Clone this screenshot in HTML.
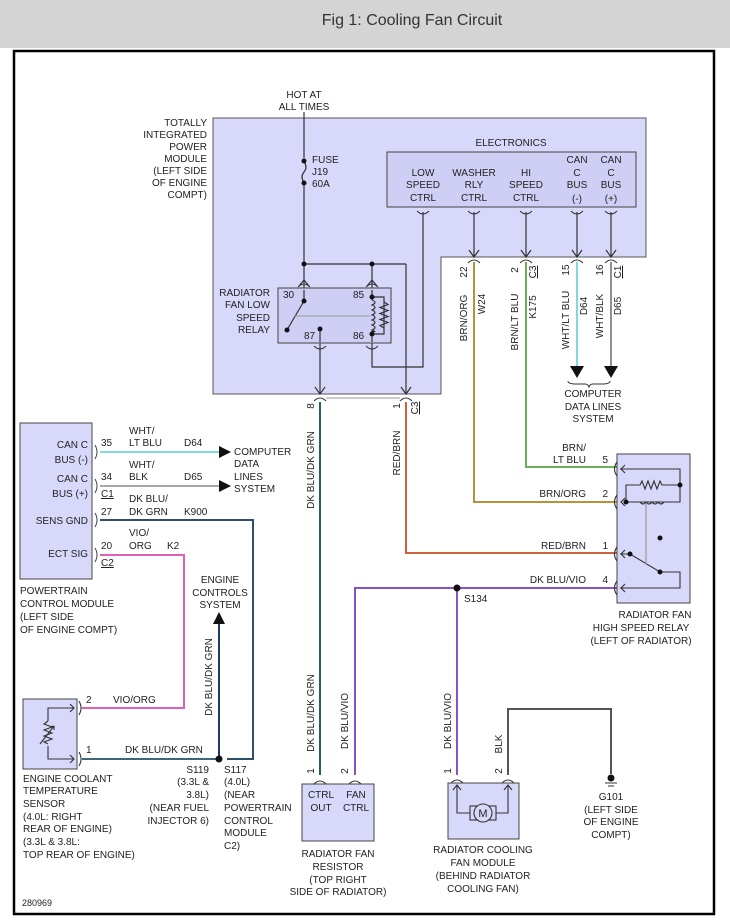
<!DOCTYPE html>
<html><head><meta charset="utf-8"><style>
html,body{margin:0;padding:0;background:#fff}
svg{display:block}
text{font-family:"Liberation Sans",Arial,sans-serif;font-size:10px;fill:#222}
</style></head><body>
<svg width="730" height="924" viewBox="0 0 730 924" xmlns="http://www.w3.org/2000/svg">
<rect x="0" y="0" width="730" height="48" fill="#d4d4d4"/>
<text x="412" y="25" style="font-size:16px;fill:#333" text-anchor="middle">Fig 1: Cooling Fan Circuit</text>
<rect x="14" y="51" width="700" height="863" fill="#fff" stroke="#000" stroke-width="2.5"/>

<!-- TIPM -->
<polygon points="213,118 646,118 646,257 441,257 441,394 213,394" fill="#d8d8fa" stroke="#555" stroke-width="1"/>
<g text-anchor="end">
<text x="207" y="126">TOTALLY</text><text x="207" y="138">INTEGRATED</text><text x="207" y="150">POWER</text><text x="207" y="162">MODULE</text><text x="207" y="174">(LEFT SIDE</text><text x="207" y="186">OF ENGINE</text><text x="207" y="198">COMPT)</text>
</g>
<text x="304" y="98" text-anchor="middle">HOT AT</text><text x="304" y="110" text-anchor="middle">ALL TIMES</text>
<g stroke="#333" stroke-width="1.2" fill="none">
<line x1="304" y1="112" x2="304" y2="158"/>
<path d="M304,162 q4,5 0,10 q-4,5 0,10"/>
<line x1="304" y1="184" x2="304" y2="292"/>
<line x1="304" y1="264" x2="406" y2="264"/>
<line x1="406" y1="264" x2="406" y2="394"/>
<line x1="372" y1="264" x2="372" y2="292"/>
<line x1="320" y1="334" x2="320" y2="394"/>
<path d="M372,337 V367 H423 V212"/>
</g>
<circle cx="304" cy="161" r="2.5" fill="#111"/><circle cx="304" cy="183" r="2.5" fill="#111"/>
<circle cx="304" cy="264" r="2.5" fill="#111"/><circle cx="372" cy="264" r="2.5" fill="#111"/>
<text x="312" y="163">FUSE</text><text x="312" y="175">J19</text><text x="312" y="187">60A</text>

<!-- low speed relay -->
<rect x="278" y="288" width="113" height="55" fill="#cfcff5" stroke="#444"/>
<g text-anchor="end"><text x="270" y="296">RADIATOR</text><text x="270" y="308">FAN LOW</text><text x="270" y="321">SPEED</text><text x="270" y="333">RELAY</text></g>
<text x="283" y="298">30</text><text x="353" y="298">85</text><text x="304" y="339">87</text><text x="353" y="339">86</text>
<g stroke="#333" stroke-width="1.2" fill="none">
<line x1="304" y1="290" x2="304" y2="301"/>
<line x1="304" y1="301" x2="287" y2="330"/>
<line x1="320" y1="329" x2="320" y2="342"/>
<line x1="372" y1="290" x2="372" y2="300"/>
<line x1="372" y1="331" x2="372" y2="342"/>
<path d="M372,297 H384 V334 H372"/>
<path d="M372,300 q6,2.5 0,5 q6,2.5 0,5 q6,2.5 0,5 q6,2.5 0,5 q6,2.5 0,5 q6,2.5 0,5 q6,2.5 0,1"/>
<path d="M384,302 l4,2.5 -8,3 8,3 -8,3 8,3 -8,3 8,3 -8,3 4,2.5"/>
</g>
<line x1="295" y1="316" x2="370" y2="316" stroke="#999" stroke-width="1"/>
<circle cx="304" cy="301" r="2.5" fill="#111"/><circle cx="287" cy="330" r="2.5" fill="#111"/><circle cx="320" cy="329" r="2.5" fill="#111"/>
<circle cx="372" cy="297" r="2.5" fill="#111"/><circle cx="372" cy="334" r="2.5" fill="#111"/>
<g stroke="#333" fill="none" stroke-width="1">
<path d="M298,287 q6,-6 12,0"/><path d="M366,287 q6,-6 12,0"/>
<path d="M314,346 q6,6 12,0"/><path d="M366,346 q6,6 12,0"/>
</g>

<!-- electronics -->
<text x="511" y="146" text-anchor="middle">ELECTRONICS</text>
<rect x="387" y="152" width="249" height="55" fill="#cfcff5" stroke="#444"/>
<g text-anchor="middle">
<text x="423" y="176">LOW</text><text x="423" y="188">SPEED</text><text x="423" y="201">CTRL</text>
<text x="474" y="176">WASHER</text><text x="474" y="188">RLY</text><text x="474" y="201">CTRL</text>
<text x="526" y="176">HI</text><text x="526" y="188">SPEED</text><text x="526" y="201">CTRL</text>
<text x="577" y="163">CAN</text><text x="577" y="176">C</text><text x="577" y="188">BUS</text><text x="577" y="202">(-)</text>
<text x="611" y="163">CAN</text><text x="611" y="176">C</text><text x="611" y="188">BUS</text><text x="611" y="202">(+)</text>
</g>
<g stroke="#333" fill="none" stroke-width="1">
<path d="M417,211 q6,6 12,0"/><path d="M468,211 q6,6 12,0"/><path d="M520,211 q6,6 12,0"/><path d="M571,211 q6,6 12,0"/><path d="M605,211 q6,6 12,0"/>
<path d="M468,263 q6,-6 12,0"/><path d="M520,263 q6,-6 12,0"/><path d="M571,263 q6,-6 12,0"/><path d="M605,263 q6,-6 12,0"/>
<path d="M314,401 q6,-6 12,0"/><path d="M400,401 q6,-6 12,0"/>
</g>
<g stroke="#333" stroke-width="1.2" fill="none">
<line x1="474" y1="212" x2="474" y2="257"/><line x1="526" y1="212" x2="526" y2="257"/><line x1="577" y1="212" x2="577" y2="257"/><line x1="611" y1="212" x2="611" y2="257"/>
<path d="M469,250 l5,7 5,-7 M521,250 l5,7 5,-7 M572,250 l5,7 5,-7 M606,250 l5,7 5,-7 M315,387 l5,7 5,-7 M401,387 l5,7 5,-7 M299,286 l5,-6 5,6 M367,286 l5,-6 5,6"/>
</g>
<line x1="326" y1="398" x2="400" y2="398" stroke="#bbb" stroke-width="1.5"/>

<!-- wires from electronics -->
<g fill="none" stroke-width="2">
<path d="M474,262 V502 H617" stroke="#b8923a"/>
<path d="M526,262 V467 H617" stroke="#6cae5c"/>
<line x1="577" y1="262" x2="577" y2="368" stroke="#80dade"/>
<line x1="611" y1="262" x2="611" y2="368" stroke="#909090"/>
<path d="M406,402 V553 H617" stroke="#cf6040"/>
<line x1="320" y1="402" x2="320" y2="775" stroke="#24606a"/>
<path d="M617,588 H355 V775" stroke="#8a50c8"/>
<line x1="457" y1="588" x2="457" y2="775" stroke="#8a50c8"/>
<path d="M508,775 V709 H611 V774" stroke="#555"/>
</g>
<polygon points="570,366 584,366 577,378" fill="#111"/><polygon points="604,366 618,366 611,378" fill="#111"/>
<path d="M568,381 q0,3 8,3 h9 q3,0 4,3 q1,-3 4,-3 h9 q8,0 8,-3" fill="none" stroke="#333"/>
<g text-anchor="middle"><text x="593" y="397">COMPUTER</text><text x="593" y="410">DATA LINES</text><text x="593" y="422">SYSTEM</text></g>

<!-- rotated labels -->
<g>
<text transform="translate(467,272) rotate(-90)" text-anchor="middle">22</text>
<text transform="translate(467,318) rotate(-90)" text-anchor="middle">BRN/ORG</text>
<text transform="translate(485,304) rotate(-90)" text-anchor="middle">W24</text>
<text transform="translate(518,270) rotate(-90)" text-anchor="middle">2</text>
<text transform="translate(536,272) rotate(-90)" text-anchor="middle" style="text-decoration:underline">C3</text>
<text transform="translate(518,322) rotate(-90)" text-anchor="middle">BRN/LT BLU</text>
<text transform="translate(536,307) rotate(-90)" text-anchor="middle">K175</text>
<text transform="translate(569,270) rotate(-90)" text-anchor="middle">15</text>
<text transform="translate(569,320) rotate(-90)" text-anchor="middle">WHT/LT BLU</text>
<text transform="translate(587,306) rotate(-90)" text-anchor="middle">D64</text>
<text transform="translate(603,270) rotate(-90)" text-anchor="middle">16</text>
<text transform="translate(603,316) rotate(-90)" text-anchor="middle">WHT/BLK</text>
<text transform="translate(621,306) rotate(-90)" text-anchor="middle">D65</text>
<text transform="translate(621,272) rotate(-90)" text-anchor="middle" style="text-decoration:underline">C1</text>
<text transform="translate(314,406) rotate(-90)" text-anchor="middle">8</text>
<text transform="translate(400,406) rotate(-90)" text-anchor="middle">1</text>
<text transform="translate(418,408) rotate(-90)" text-anchor="middle" style="text-decoration:underline">C3</text>
<text transform="translate(314,470) rotate(-90)" text-anchor="middle">DK BLU/DK GRN</text>
<text transform="translate(400,453) rotate(-90)" text-anchor="middle">RED/BRN</text>
<text transform="translate(314,713) rotate(-90)" text-anchor="middle">DK BLU/DK GRN</text>
<text transform="translate(348,721) rotate(-90)" text-anchor="middle">DK BLU/VIO</text>
<text transform="translate(451,721) rotate(-90)" text-anchor="middle">DK BLU/VIO</text>
<text transform="translate(502,744) rotate(-90)" text-anchor="middle">BLK</text>
<text transform="translate(212,677) rotate(-90)" text-anchor="middle">DK BLU/DK GRN</text>
<text transform="translate(314,771) rotate(-90)" text-anchor="middle">1</text>
<text transform="translate(348,771) rotate(-90)" text-anchor="middle">2</text>
<text transform="translate(451,771) rotate(-90)" text-anchor="middle">1</text>
<text transform="translate(502,771) rotate(-90)" text-anchor="middle">2</text>
</g>

<!-- high speed relay -->
<rect x="617" y="454" width="73" height="149" fill="#d8d8fa" stroke="#444"/>
<g text-anchor="end">
<text x="586" y="451">BRN/</text><text x="586" y="463">LT BLU</text><text x="608" y="463">5</text>
<text x="586" y="497">BRN/ORG</text><text x="608" y="497">2</text>
<text x="586" y="549">RED/BRN</text><text x="608" y="549">1</text>
<text x="586" y="583">DK BLU/VIO</text><text x="608" y="583">4</text>
</g>
<g stroke="#333" stroke-width="1.1" fill="none">
<path d="M620,469 H680 V502 H626"/>
<path d="M626,502 V485 H640 l2,-4 3,8 3,-8 3,8 3,-8 3,8 3,-8 2,4 H680"/>
<path d="M640,502 q3,4 6,0 q3,4 6,0 q3,4 6,0 q3,4 6,0"/>
<path d="M620,554 H630 L660,572 H680 V588 H620"/>
<path d="M625,465 l-4,4 4,4 M625,498 l-4,4 4,4 M625,550 l-4,4 4,4 M625,584 l-4,4 4,4"/>
<path d="M617,462 q-5,7 0,14 M617,495 q-5,7 0,14 M617,547 q-5,7 0,14 M617,581 q-5,7 0,14"/>
</g>
<line x1="646" y1="504" x2="646" y2="565" stroke="#999" stroke-width="1.2"/>
<circle cx="680" cy="485" r="2.5" fill="#111"/><circle cx="626" cy="502" r="2.5" fill="#111"/><circle cx="660" cy="538" r="2.5" fill="#111"/><circle cx="630" cy="554" r="2.5" fill="#111"/><circle cx="660" cy="572" r="2.5" fill="#111"/>
<g text-anchor="middle"><text x="655" y="618">RADIATOR FAN</text><text x="641" y="631">HIGH SPEED RELAY</text><text x="641" y="644">(LEFT OF RADIATOR)</text></g>
<circle cx="457" cy="588" r="3.5" fill="#111"/>
<text x="464" y="602">S134</text>

<!-- PCM -->
<rect x="20" y="423" width="72" height="156" fill="#d8d8fa" stroke="#444"/>
<g text-anchor="end"><text x="88" y="448">CAN C</text><text x="88" y="463">BUS (-)</text><text x="88" y="482">CAN C</text><text x="88" y="497">BUS (+)</text><text x="88" y="524">SENS GND</text><text x="88" y="557">ECT SIG</text></g>
<text x="101" y="446">35</text><text x="101" y="480">34</text><text x="101" y="497" style="text-decoration:underline">C1</text><text x="101" y="515">27</text><text x="101" y="549">20</text><text x="101" y="566" style="text-decoration:underline">C2</text>
<text x="129" y="434">WHT/</text><text x="129" y="446">LT BLU</text><text x="184" y="446">D64</text>
<text x="129" y="468">WHT/</text><text x="129" y="480">BLK</text><text x="184" y="480">D65</text>
<text x="129" y="502">DK BLU/</text><text x="129" y="515">DK GRN</text><text x="184" y="515">K900</text>
<text x="129" y="536">VIO/</text><text x="129" y="549">ORG</text><text x="167" y="549">K2</text>
<g fill="none" stroke-width="2">
<line x1="100" y1="452" x2="220" y2="452" stroke="#80dade"/>
<line x1="100" y1="486" x2="220" y2="486" stroke="#a8a8a8"/>
<path d="M100,520 H253 V759 H227" stroke="#2e4e6a"/>
<path d="M100,555 H184 V708 H82" stroke="#e060b8"/>
<line x1="82" y1="759" x2="218" y2="759" stroke="#3a6878"/>
<line x1="219" y1="759" x2="219" y2="622" stroke="#1e3a66"/>
</g>
<g stroke="#444" fill="none" stroke-width="1"><path d="M95,445 q4,7 0,14 M95,479 q4,7 0,14 M95,513 q4,7 0,14 M95,548 q4,7 0,14"/></g>
<polygon points="219,452 231,446 231,458" fill="#111" transform="rotate(180 225 452)"/>
<polygon points="219,486 231,480 231,492" fill="#111" transform="rotate(180 225 486)"/>
<polygon points="213,624 225,624 219,612" fill="#111"/>
<text x="234" y="455">COMPUTER</text><text x="234" y="467">DATA</text><text x="234" y="480">LINES</text><text x="234" y="492">SYSTEM</text>
<g text-anchor="middle"><text x="220" y="583">ENGINE</text><text x="220" y="596">CONTROLS</text><text x="220" y="608">SYSTEM</text></g>
<text x="20" y="594">POWERTRAIN</text><text x="20" y="607">CONTROL MODULE</text><text x="20" y="620">(LEFT SIDE</text><text x="20" y="633">OF ENGINE COMPT)</text>

<!-- ECT sensor -->
<rect x="23" y="699" width="54" height="70" fill="#d8d8fa" stroke="#444"/>
<g stroke="#333" fill="none" stroke-width="1.1">
<path d="M74,708 H48 V721 M48,746 V759 H74"/>
<path d="M48,721 l-4,3 8,3 -8,3 8,3 -8,3 8,3 -8,3 4,2"/>
<path d="M40,744 l14,-18 M54,726 l-4,1 M54,726 l0,4"/>
<path d="M70,704 l4,4 -4,4 M70,755 l4,4 -4,4"/>
<path d="M79,701 q4,7 0,14 M79,752 q4,7 0,14"/>
</g>
<text x="86" y="703">2</text><text x="113" y="703">VIO/ORG</text>
<text x="86" y="753">1</text><text x="125" y="753">DK BLU/DK GRN</text>
<circle cx="219" cy="759" r="3.5" fill="#111"/>
<text x="23" y="782">ENGINE COOLANT</text><text x="23" y="794">TEMPERATURE</text><text x="23" y="807">SENSOR</text><text x="23" y="820">(4.0L: RIGHT</text><text x="23" y="832">REAR OF ENGINE)</text><text x="23" y="845">(3.3L &amp; 3.8L:</text><text x="23" y="858">TOP REAR OF ENGINE)</text>
<g text-anchor="end"><text x="209" y="773">S119</text><text x="209" y="785">(3.3L &amp;</text><text x="209" y="798">3.8L)</text><text x="209" y="811">(NEAR FUEL</text><text x="209" y="824">INJECTOR 6)</text></g>
<text x="224" y="773">S117</text><text x="224" y="785">(4.0L)</text><text x="224" y="798">(NEAR</text><text x="224" y="811">POWERTRAIN</text><text x="224" y="824">CONTROL</text><text x="224" y="836">MODULE</text><text x="224" y="849">C2)</text>

<!-- resistor -->
<rect x="302" y="784" width="72" height="57" fill="#d8d8fa" stroke="#444"/>
<g stroke="#333" fill="none"><path d="M314,784 q6,-6 12,0 M349,784 q6,-6 12,0 M451,783 q6,-6 12,0 M502,783 q6,-6 12,0"/></g>
<g text-anchor="middle"><text x="321" y="798">CTRL</text><text x="321" y="811">OUT</text><text x="356" y="798">FAN</text><text x="356" y="811">CTRL</text>
<text x="338" y="857">RADIATOR FAN</text><text x="338" y="870">RESISTOR</text><text x="338" y="883">(TOP RIGHT</text><text x="338" y="895">SIDE OF RADIATOR)</text></g>

<!-- fan module -->
<rect x="448" y="783" width="71" height="56" fill="#d8d8fa" stroke="#444"/>
<g stroke="#333" fill="none" stroke-width="1.1">
<path d="M457,785 V813 H470 M496,813 H508 V785"/>
<path d="M453,790 l4,-5 4,5 M504,790 l4,-5 4,5"/>
<rect x="470" y="806" width="26" height="14"/>
<circle cx="483" cy="813" r="9" fill="#d8d8fa"/>
</g>
<text x="483" y="817" text-anchor="middle" style="font-size:11px">M</text>
<g text-anchor="middle"><text x="483" y="853">RADIATOR COOLING</text><text x="483" y="866">FAN MODULE</text><text x="483" y="879">(BEHIND RADIATOR</text><text x="483" y="892">COOLING FAN)</text></g>

<!-- ground -->
<circle cx="611" cy="778" r="3.5" fill="#111"/>
<line x1="605" y1="783" x2="617" y2="783" stroke="#333"/><line x1="608" y1="786" x2="614" y2="786" stroke="#333"/>
<g text-anchor="middle"><text x="611" y="800">G101</text><text x="611" y="813">(LEFT SIDE</text><text x="611" y="825">OF ENGINE</text><text x="611" y="838">COMPT)</text></g>

<text x="22" y="906" style="font-size:9px">280969</text>
</svg>
</body></html>
